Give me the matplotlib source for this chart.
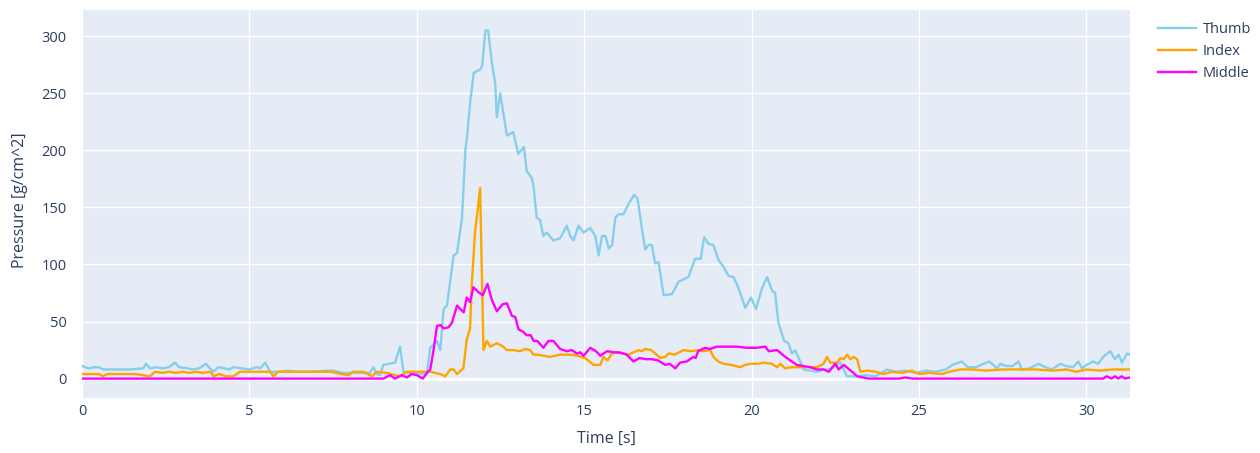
import matplotlib
matplotlib.use("Agg")
import matplotlib.pyplot as plt

# thumb sensor
thumb_t = [0, 0.19, 0.39, 0.5, 0.64, 1.0, 1.4, 1.83, 1.91, 2.03,
           2.23, 2.4, 2.6, 2.78, 2.9, 3.15, 3.3, 3.5, 3.7, 3.82,
           3.93, 4.07, 4.25, 4.4, 4.52, 4.75, 5.0, 5.22, 5.32, 5.47,
           5.62, 5.9, 6.12, 6.4, 6.8, 7.31, 7.5, 7.81, 8.2, 8.6,
           8.7, 8.8, 8.9, 9.0, 9.35, 9.5, 9.6, 9.8, 10.0, 10.3,
           10.4, 10.6, 10.7, 10.8, 10.9, 11.1, 11.2, 11.35, 11.45, 11.5,
           11.6, 11.7, 11.9, 11.95, 12.05, 12.13, 12.24, 12.34, 12.39, 12.49,
           12.69, 12.88, 13.03, 13.2, 13.28, 13.43, 13.48, 13.58, 13.68, 13.78,
           13.88, 14.08, 14.28, 14.48, 14.58, 14.68, 14.83, 14.98, 15.18, 15.33,
           15.43, 15.53, 15.63, 15.73, 15.83, 15.93, 16.02, 16.17, 16.32, 16.49,
           16.59, 16.72, 16.82, 16.92, 17.02, 17.12, 17.22, 17.37, 17.62, 17.82,
           18.11, 18.31, 18.48, 18.58, 18.71, 18.86, 19.01, 19.16, 19.31, 19.46,
           19.61, 19.81, 19.98, 20.13, 20.31, 20.46, 20.61, 20.7, 20.8, 20.97,
           21.1, 21.2, 21.3, 21.45, 21.55, 21.75, 21.95, 22.15, 22.35, 22.55,
           22.65, 22.85, 23.1, 23.4, 23.7, 24.04, 24.3, 24.6, 24.9, 25.2,
           25.5, 25.8, 26.0, 26.28, 26.45, 26.7, 26.93, 27.1, 27.33, 27.43,
           27.6, 27.8, 27.97, 28.07, 28.3, 28.57, 28.7, 28.96, 29.22, 29.4,
           29.6, 29.76, 29.86, 30.0, 30.2, 30.35, 30.5, 30.71, 30.85, 30.96,
           31.06, 31.21, 31.3]
thumb_v = [11, 9, 10, 10, 8, 8, 8, 9, 13, 9,
           10, 9, 10, 14, 10, 9, 8, 9, 13, 9,
           6, 10, 9, 8, 10, 9, 8, 10, 9, 14,
           6, 6, 7, 6, 6, 7, 7, 5, 5, 5,
           10, 4, 3, 12, 14, 28, 6, 5, 4, 4,
           27, 33, 25, 61, 64, 108, 110, 141, 200, 212,
           244, 268, 271, 274, 305, 305, 277, 259, 229, 250,
           213, 216, 197, 203, 182, 176, 170, 141, 139, 125,
           128, 121, 123, 134, 125, 121, 134, 128, 132, 125,
           108, 125, 125, 114, 117, 141, 144, 144, 153, 161,
           158, 132, 113, 117, 117, 101, 102, 73, 74, 85,
           89, 105, 105, 124, 118, 117, 104, 98, 90, 89,
           79, 62, 71, 61, 79, 89, 77, 75, 49, 33,
           31, 22, 25, 15, 8, 7, 6, 8, 8, 12,
           14, 2, 2, 3, 2, 8, 6, 7, 5, 7,
           6, 8, 12, 15, 10, 10, 13, 15, 9, 13,
           11, 11, 15, 8, 9, 13, 11, 8, 13, 11,
           10, 15, 9, 12, 15, 13, 19, 24, 17, 21,
           14, 22, 21]

# index finger sensor
index_t = [0, 0.5, 0.62, 0.75, 1.2, 1.6, 2.03, 2.18, 2.4, 2.6,
           2.8, 3.0, 3.2, 3.4, 3.6, 3.84, 3.93, 4.1, 4.3, 4.52,
           4.72, 5.0, 5.3, 5.62, 5.72, 5.85, 6.2, 6.6, 7.0, 7.41,
           7.6, 7.95, 8.1, 8.4, 8.66, 8.8, 9.1, 9.5, 9.7, 10.4,
           10.55, 10.7, 10.85, 11.0, 11.1, 11.2, 11.39, 11.49, 11.59, 11.64,
           11.74, 11.81, 11.89, 11.99, 12.09, 12.19, 12.39, 12.58, 12.68, 12.88,
           13.08, 13.23, 13.39, 13.48, 13.6, 13.98, 14.28, 14.58, 14.8, 15.03,
           15.28, 15.48, 15.57, 15.7, 15.8, 15.93, 16.15, 16.32, 16.62, 16.72,
           16.82, 17.0, 17.12, 17.27, 17.42, 17.52, 17.7, 17.96, 18.2, 18.4,
           18.56, 18.76, 18.86, 19.0, 19.16, 19.4, 19.66, 19.8, 19.96, 20.2,
           20.36, 20.6, 20.76, 20.86, 21.0, 21.2, 21.4, 21.75, 21.95, 22.15,
           22.25, 22.35, 22.55, 22.65, 22.75, 22.85, 22.95, 23.05, 23.15, 23.25,
           23.45, 23.7, 23.94, 24.2, 24.5, 24.78, 25.0, 25.3, 25.68, 25.9,
           26.23, 26.6, 27.0, 27.5, 28.0, 28.5, 29.0, 29.4, 29.7, 30.0,
           30.4, 30.8, 31.3]
index_v = [4, 4, 2, 4, 4, 4, 2, 6, 5, 6,
           5, 6, 5, 6, 5, 6, 2, 4, 2, 2,
           6, 6, 6, 6, 2, 6, 6, 6, 6, 6,
           5, 3, 6, 6, 2, 6, 5, 2, 6, 6,
           5, 4, 2, 8, 8, 4, 9, 34, 44, 82,
           129, 146, 167, 25, 33, 28, 31, 28, 25, 25,
           24, 26, 25, 21, 21, 19, 21, 21, 20, 18,
           12, 12, 19, 16, 21, 23, 22, 21, 25, 24,
           26, 25, 22, 18, 19, 22, 21, 25, 24, 25,
           24, 25, 19, 15, 13, 12, 10, 12, 13, 13,
           14, 13, 10, 13, 9, 10, 10, 10, 10, 13,
           19, 14, 14, 18, 17, 21, 17, 19, 17, 6,
           7, 6, 4, 6, 5, 7, 4, 5, 4, 6,
           8, 8, 7, 8, 8, 8, 7, 8, 6, 8,
           7, 8, 8]

# middle finger sensor
middle_t = [0, 9.0, 9.2, 9.35, 9.55, 9.7, 9.85, 10.0, 10.18, 10.3,
            10.4, 10.5, 10.6, 10.7, 10.8, 10.95, 11.05, 11.2, 11.3, 11.4,
            11.49, 11.59, 11.69, 11.83, 11.97, 12.11, 12.24, 12.39, 12.56, 12.69,
            12.84, 12.94, 13.04, 13.18, 13.28, 13.4, 13.49, 13.6, 13.78, 13.93,
            14.08, 14.28, 14.48, 14.62, 14.78, 14.88, 14.98, 15.18, 15.35, 15.48,
            15.68, 15.9, 16.05, 16.27, 16.47, 16.65, 16.85, 17.02, 17.2, 17.42,
            17.55, 17.72, 17.86, 18.06, 18.26, 18.33, 18.4, 18.61, 18.76, 18.96,
            19.25, 19.55, 19.86, 20.15, 20.41, 20.51, 20.76, 20.96, 21.15, 21.35,
            21.55, 21.75, 21.95, 22.15, 22.3, 22.5, 22.6, 22.75, 23.0, 23.15,
            23.5, 24.4, 24.6, 24.8, 30.5, 30.6, 30.75, 30.85, 30.95, 31.05,
            31.15, 31.3]
middle_v = [0, 0, 3, 0, 3, 1, 4, 3, 0, 5,
            8, 25, 46, 47, 44, 45, 49, 64, 61, 58,
            71, 67, 80, 76, 73, 83, 69, 59, 65, 66,
            55, 54, 43, 41, 38, 38, 33, 33, 27, 33,
            33, 26, 24, 25, 22, 23, 20, 27, 24, 20,
            24, 23, 23, 21, 15, 18, 17, 17, 16, 12,
            13, 9, 14, 15, 19, 18, 24, 27, 26, 28,
            28, 28, 27, 27, 28, 24, 25, 20, 16, 12,
            11, 10, 8, 8, 6, 13, 8, 12, 6, 2,
            0, 0, 1, 0, 0, 2, 0, 2, 0, 2,
            0, 1]

series_names = ["Thumb", "Index", "Middle"]
series_colors = ["#87CEEB", "#FFA500", "#FF00FF"]

plt.rcParams["font.family"] = ["Open Sans", "DejaVu Sans"]
text_color = "#2a3f5f"

fig = plt.figure(figsize=(12.6, 4.53), dpi=100)
ax = fig.add_axes([82 / 1260, 1 - 398 / 453, 1048 / 1260, 388 / 453])
ax.set_facecolor("#E5ECF6")

for t, v, name, color in zip([thumb_t, index_t, middle_t],
                             [thumb_v, index_v, middle_v],
                             series_names, series_colors):
    ax.plot(t, v, color=color, lw=1.7, label=name, solid_joinstyle="round")

ax.set_xlim(0, 31.3)
ax.set_ylim(-17, 323)
ax.set_xticks(range(0, 31, 5))
ax.set_yticks(range(0, 301, 50))
ax.grid(True, color="white", lw=1)
ax.axhline(0, color="white", lw=2, zorder=1)
ax.set_axisbelow(True)
for s in ax.spines.values():
    s.set_visible(False)
ax.tick_params(length=0, labelsize=10.5, colors=text_color)
ax.tick_params(axis="y", pad=11)
ax.tick_params(axis="x", pad=4)

ax.set_xlabel("Time [s]", fontsize=11.5, color=text_color)
ax.set_ylabel("Pressure [g/cm^2]", fontsize=11.5, color=text_color)
ax.xaxis.set_label_coords(0.5, -0.085)
ax.yaxis.set_label_coords(-0.052, 0.51)

fig.legend(loc="upper left", bbox_to_anchor=(1152 / 1260, 1 - 16 / 453),
           frameon=False, fontsize=10.5, handlelength=2.6, handletextpad=0.5,
           labelspacing=0.5, borderaxespad=0, labelcolor=text_color)

fig.savefig("out.png", dpi=100)
